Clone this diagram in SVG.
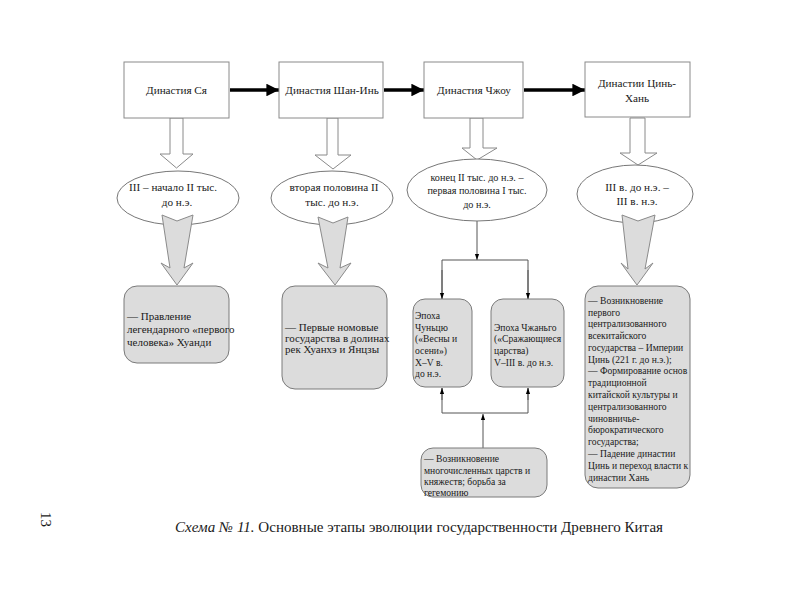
<svg xmlns="http://www.w3.org/2000/svg" width="800" height="600" viewBox="0 0 800 600">
<defs>
<style>
text{font-family:"Liberation Serif","Times New Roman",serif;fill:#1a1a1a;font-size:11.2px}
.t{text-anchor:middle}
.s{font-size:11px}
.m{font-size:9.6px}
.e3{font-size:10.2px}
.box{fill:#fff;stroke:#8a8a8a;stroke-width:1}
.ell{fill:#fff;stroke:#777;stroke-width:1}
.rb{fill:#dcdcdc;stroke:#7a7a7a;stroke-width:1}
.hol{fill:#fff;stroke:#8a8a8a;stroke-width:1}
.gr{fill:#dcdcdc;stroke:#8a8a8a;stroke-width:1}
.thick{stroke:#000;stroke-width:3.5;fill:none}
.thin{stroke:#555;stroke-width:1;fill:none}
</style>
<marker id="big" viewBox="0 0 10 10" refX="10" refY="5" markerWidth="4.4" markerHeight="3.6" orient="auto" markerUnits="strokeWidth"><path d="M0,0L10,5L0,10z" fill="#000"/></marker>
<marker id="sm" viewBox="0 0 10 10" refX="10" refY="5" markerWidth="6" markerHeight="6" orient="auto" markerUnits="userSpaceOnUse"><path d="M0,1.5L10,5L0,8.5z" fill="#000"/></marker>
</defs>
<rect width="800" height="600" fill="#fff"/>

<g id="connectors">
<line class="thick" x1="230" y1="90" x2="279" y2="90" marker-end="url(#big)"/>
<line class="thick" x1="384" y1="90" x2="424" y2="90" marker-end="url(#big)"/>
<line class="thick" x1="524" y1="90" x2="585" y2="90" marker-end="url(#big)"/>
<polygon class="hol" points="170,118 183,118 183,154 193,154 176.5,168 160,154 170,154"/>
<polygon class="hol" points="327,118 338,118 338,155 351,155 333,169 315,155 327,155"/>
<polygon class="hol" points="470,118 483,118 483,148 497,148 477,160 462,148 470,148"/>
<polygon class="hol" points="630,118 645,118 645,153 657,153 638,165 620,153 630,153"/>
<line class="thin" x1="477" y1="221" x2="477" y2="260" marker-end="url(#sm)"/>
<polyline class="thin" points="442,299 442,260 528,260 528,299"/>
<line class="thin" x1="442" y1="270" x2="442" y2="299" marker-end="url(#sm)"/>
<line class="thin" x1="528" y1="270" x2="528" y2="299" marker-end="url(#sm)"/>
<polyline class="thin" points="442,388 442,413 528,413 528,388"/>
<line class="thin" x1="442" y1="400" x2="442" y2="388" marker-end="url(#sm)"/>
<line class="thin" x1="528" y1="400" x2="528" y2="388" marker-end="url(#sm)"/>
<line class="thin" x1="483" y1="448" x2="483" y2="414" marker-end="url(#sm)"/>
</g>

<g id="n1"><rect class="box" x="124" y="62" width="105" height="56"/><text class="t" x="176.5" y="94">Династия Ся</text></g>
<g id="n2"><rect class="box" x="279" y="62" width="104" height="56"/><text class="t" x="332" y="94">Династия Шан-Инь</text></g>
<g id="n3"><rect class="box" x="424" y="62" width="99" height="56"/><text class="t" x="474" y="94">Династия Чжоу</text></g>
<g id="n4"><rect class="box" x="585" y="62" width="105" height="55"/><text class="t" x="637" y="87">Династии Цинь-</text><text class="t" x="637" y="102">Хань</text></g>

<g id="e1"><ellipse class="ell" cx="178" cy="198" rx="61" ry="27"/><text class="t" x="173" y="191">III  – начало II тыс.</text><text class="t" x="177" y="206">до н.э.</text></g>
<g id="e2"><ellipse class="ell" cx="332" cy="198" rx="61" ry="27"/><text class="t" x="334" y="191">вторая половина II</text><text class="t" x="332" y="206">тыс. до н.э.</text></g>
<g id="e3"><ellipse class="ell" cx="477" cy="190" rx="70" ry="31"/><text class="t e3" x="477" y="181">конец II тыс. до н.э. –</text><text class="t e3" x="477" y="194">первая половина I тыс.</text><text class="t e3" x="477" y="208">до н.э.</text></g>
<g id="e4"><ellipse class="ell" cx="635" cy="194" rx="58" ry="29"/><text class="t" x="637" y="191">III в. до н.э. –</text><text class="t" x="637" y="205">III в. н.э.</text></g>

<g id="g-arrows">
<polygon class="gr" points="162,215 177,221 193,215 184,268 193,263 177,285 161,263 170,268"/>
<polygon class="gr" points="318,217 333,223 348,217 340,268 351,263 335,285 318,263 328,268"/>
<polygon class="gr" points="622,215 638,221 655,215 645,269 653,263 637,285 621,263 628,269"/>
</g>

<g id="r1"><rect class="rb" x="124" y="286" width="105" height="77" rx="13"/>
<text class="s" x="127" y="320">— Правление</text><text class="s" x="127" y="333">легендарного «первого</text><text class="s" x="127" y="346">человека» Хуанди</text></g>
<g id="r2"><rect class="rb" x="282" y="286" width="105" height="103" rx="13"/>
<text class="s" x="285" y="331">— Первые номовые</text><text class="s" x="285" y="342">государства в долинах</text><text class="s" x="285" y="353">рек Хуанхэ и Янцзы</text></g>
<g id="r3a"><rect class="rb" x="413" y="299" width="59" height="88" rx="12"/>
<text class="m" x="415" y="319">Эпоха</text><text class="m" x="415" y="331">Чуньцю</text><text class="m" x="415" y="342">(«Весны и</text><text class="m" x="415" y="354">осени»)</text><text class="m" x="415" y="366">X–V в.</text><text class="m" x="415" y="377">до н.э.</text></g>
<g id="r3b"><rect class="rb" x="491" y="299" width="73" height="88" rx="12"/>
<text class="m" x="494" y="331">Эпоха Чжаньго</text><text class="m" x="494" y="342">(«Сражающиеся</text><text class="m" x="494" y="354">царства)</text><text class="m" x="494" y="366">V–III в. до н.э.</text></g>
<g id="r3c"><rect class="rb" x="421" y="448" width="126" height="49" rx="12"/>
<text class="m" x="424" y="462">— Возникновение</text><text class="m" x="424" y="474">многочисленных царств и</text><text class="m" x="424" y="485">княжеств; борьба за</text><text class="m" x="424" y="496">гегемонию</text></g>
<g id="r4"><rect class="rb" x="585" y="286" width="105" height="202" rx="13"/>
<text class="m" x="588" y="304">— Возникновение</text>
<text class="m" x="588" y="316">первого</text>
<text class="m" x="588" y="327">централизованного</text>
<text class="m" x="588" y="339">всекитайского</text>
<text class="m" x="588" y="351">государства – Империи</text>
<text class="m" x="588" y="363">Цинь (221 г. до н.э.);</text>
<text class="m" x="588" y="374">— Формирование основ</text>
<text class="m" x="588" y="386">традиционной</text>
<text class="m" x="588" y="398">китайской культуры и</text>
<text class="m" x="588" y="410">централизованного</text>
<text class="m" x="588" y="422">чиновничье-</text>
<text class="m" x="588" y="433">бюрократического</text>
<text class="m" x="588" y="445">государства;</text>
<text class="m" x="588" y="457">— Падение династии</text>
<text class="m" x="588" y="469">Цинь и переход власти к</text>
<text class="m" x="588" y="481">династии Хань</text>
</g>

<text x="175" y="532" style="font-size:15px" textLength="488" lengthAdjust="spacingAndGlyphs"><tspan font-style="italic">Схема № 11.</tspan> Основные этапы эволюции государственности Древнего Китая</text>
<text x="0" y="0" style="font-size:15px" transform="translate(41,512) rotate(90)">13</text>
</svg>
